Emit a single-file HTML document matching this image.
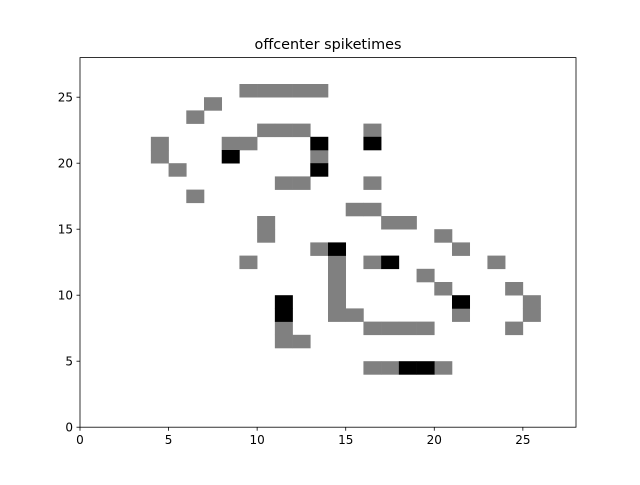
<!DOCTYPE html>
<html><head><meta charset="utf-8"><style>
body{margin:0;background:#fff;}
svg text{font-family:"DejaVu Sans","Liberation Sans",sans-serif;}
</style></head><body>
<svg id="c" width="640" height="480" xmlns="http://www.w3.org/2000/svg">
<rect width="640" height="480" fill="#fff"/>
<text x="328" y="49" font-size="14.4" text-anchor="middle">offcenter spiketimes</text>
<g id="cells"></g>
<rect x="80" y="57.6" width="496" height="369.6" fill="none" stroke="#000" stroke-width="0.8"/>
<g id="axes"></g>
</svg>
<script>
const grayCells=[[9,25],[10,25],[11,25],[12,25],[13,25],[7,24],[6,23],[10,22],[11,22],[12,22],[16,22],
[4,21],[8,21],[9,21],[4,20],[13,20],[5,19],[11,18],[12,18],[16,18],[6,17],[15,16],[16,16],
[10,15],[17,15],[18,15],[10,14],[20,14],[13,13],[21,13],[9,12],[14,12],[16,12],[23,12],
[14,11],[19,11],[14,10],[20,10],[24,10],[14,9],[25,9],[14,8],[15,8],[21,8],[25,8],
[11,7],[16,7],[17,7],[18,7],[19,7],[24,7],[11,6],[12,6],[16,4],[17,4],[20,4]];
const blackCells=[[13,21],[16,21],[8,20],[13,19],[14,13],[17,12],[11,9],[21,9],[11,8],[18,4],[19,4]];
const xTicks=[0,5,10,15,20,25];
const yTicks=[0,5,10,15,20,25];
const X0=80,X1=576,Y0=427.2,Y1=57.6,N=28;
const sx=v=>X0+(X1-X0)*v/N, sy=v=>Y0-(Y0-Y1)*v/N;
const NS="http://www.w3.org/2000/svg";
const cg=document.getElementById('cells');
function cell(c,col,name){
 const r=document.createElementNS(NS,'rect');
 r.setAttribute('x',sx(c[0]));r.setAttribute('y',sy(c[1]+1));
 r.setAttribute('width',sx(c[0]+1)-sx(c[0])+0.3);r.setAttribute('height',sy(c[1])-sy(c[1]+1)+0.3);
 r.setAttribute('fill',col);
 
 
 cg.appendChild(r);
}
grayCells.forEach(c=>cell(c,'#808080','spike-cell-gray'));
blackCells.forEach(c=>cell(c,'#000000','spike-cell-black'));
const ag=document.getElementById('axes');
xTicks.forEach(t=>{
 const l=document.createElementNS(NS,'line');
 l.setAttribute('x1',sx(t));l.setAttribute('x2',sx(t));l.setAttribute('y1',Y0);l.setAttribute('y2',Y0+3.5);l.setAttribute('stroke','#000');l.setAttribute('stroke-width','0.8');
 
 
 ag.appendChild(l);
 const tx=document.createElementNS(NS,'text');
 tx.setAttribute('x',sx(t));tx.setAttribute('y',Y0+17);tx.setAttribute('font-size','12');tx.setAttribute('text-anchor','middle');
 tx.textContent=t;
 
 
 ag.appendChild(tx);
});
yTicks.forEach(t=>{
 const l=document.createElementNS(NS,'line');
 l.setAttribute('x1',X0-3.5);l.setAttribute('x2',X0);l.setAttribute('y1',sy(t));l.setAttribute('y2',sy(t));l.setAttribute('stroke','#000');l.setAttribute('stroke-width','0.8');
 
 
 ag.appendChild(l);
 const tx=document.createElementNS(NS,'text');
 tx.setAttribute('x',X0-7);tx.setAttribute('y',sy(t)+4.5);tx.setAttribute('font-size','12');tx.setAttribute('text-anchor','end');
 tx.textContent=t;
 
 
 ag.appendChild(tx);
});
</script>
</body></html>
